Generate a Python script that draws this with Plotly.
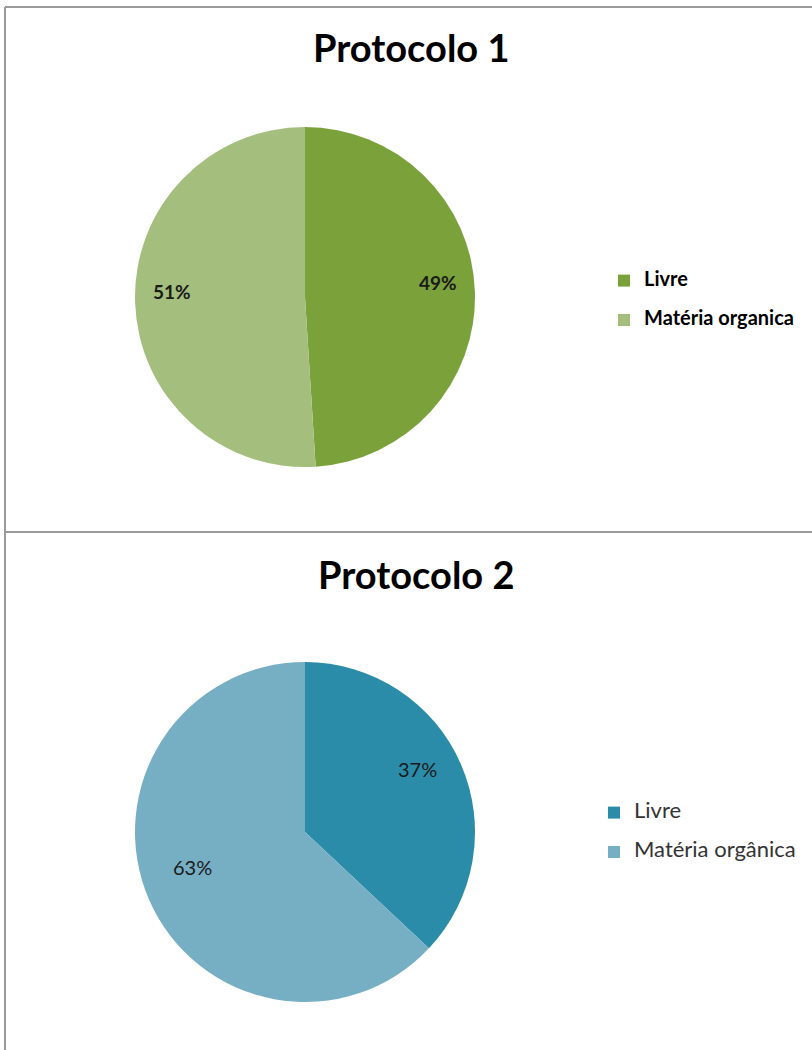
import math
import plotly.graph_objects as go

labels_p1 = ["Livre", "Matéria organica"]
values_p1 = [49, 51]
colors_p1 = ["#7BA23A", "#A4BF7D"]

labels_p2 = ["Livre", "Matéria orgânica"]
values_p2 = [37, 63]
colors_p2 = ["#2A8CA8", "#76AFC4"]

W, H = 812, 1050
R = 170  # pie radius in px


def px_x(x):
    return x / W


def px_y(y):
    return 1 - y / H


fig = go.Figure()


def add_pie(labels, values, colors, cx, cy, legend, bold, label_r, fsize, leg_size, yshift):
    # legend text: bigger span inside a smaller legend font plus a blank line,
    # so the rows get spaced out like the original
    shown = []
    for l in labels:
        t = "<b>%s</b>" % l if bold else l
        shown.append("<span style='font-size:%dpx'>%s</span><br> " % (leg_size, t))
    fig.add_trace(go.Pie(
        labels=shown, values=values, sort=False, direction="clockwise",
        rotation=0, marker=dict(colors=colors, line=dict(width=0)),
        textinfo="none", customdata=labels,
        hovertemplate="%{customdata}: %{percent}<extra></extra>",
        domain=dict(x=[px_x(cx - R), px_x(cx + R)], y=[px_y(cy + R), px_y(cy - R)]),
        legend=legend,
    ))
    # percent labels placed at the middle angle of each slice
    total = float(sum(values))
    start = 0.0
    for v in values:
        mid = (start + v / 2.0) / total * 2 * math.pi
        start += v
        x = cx + label_r * R * math.sin(mid)
        y = cy - label_r * R * math.cos(mid)
        txt = "%d%%" % round(v / total * 100)
        if bold:
            txt = "<b>%s</b>" % txt
        fig.add_annotation(text=txt, x=px_x(x), y=px_y(y), xref="paper", yref="paper",
                           xanchor="center", yanchor="middle", yshift=yshift, showarrow=False,
                           font=dict(family="Lato", size=fsize, color="#1a1a1a"))


add_pie(labels_p1, values_p1, colors_p1, 305, 297, "legend", True, 0.78, 19, 20, 10)
add_pie(labels_p2, values_p2, colors_p2, 305, 832, "legend2", False, 0.72, 20, 22, 14)

# titles
fig.add_annotation(text="<b>Protocolo 1</b>", x=px_x(411), y=px_y(47),
                   xref="paper", yref="paper", xanchor="center", yanchor="middle",
                   showarrow=False, font=dict(family="Lato", size=38, color="black"))
fig.add_annotation(text="<b>Protocolo 2</b>", x=px_x(416), y=px_y(574),
                   xref="paper", yref="paper", xanchor="center", yanchor="middle",
                   showarrow=False, font=dict(family="Lato", size=38, color="black"))

# frame lines
line_style = dict(color="#9a9a9a", width=2)
fig.add_shape(type="line", xref="paper", yref="paper",
              x0=px_x(5), x1=1, y0=px_y(7), y1=px_y(7), line=line_style)
fig.add_shape(type="line", xref="paper", yref="paper",
              x0=px_x(5), x1=px_x(5), y0=px_y(7), y1=0, line=line_style)
fig.add_shape(type="line", xref="paper", yref="paper",
              x0=px_x(5), x1=1, y0=px_y(532), y1=px_y(532), line=line_style)

fig.update_layout(
    width=W, height=H,
    margin=dict(l=0, r=0, t=0, b=0),
    paper_bgcolor="white", plot_bgcolor="white",
    legend=dict(x=px_x(604), y=px_y(265), xanchor="left", yanchor="top",
                font=dict(family="Lato", size=14, color="black"), valign="top",
                tracegroupgap=0, itemclick=False, traceorder="normal"),
    legend2=dict(x=px_x(594), y=px_y(797), xanchor="left", yanchor="top",
                 font=dict(family="Lato", size=14, color="#333333"), valign="top",
                 tracegroupgap=0, itemclick=False, traceorder="normal"),
)

fig.write_html("out.html", config={"displayModeBar": False},
               post_script="document.body.style.margin='0';")
